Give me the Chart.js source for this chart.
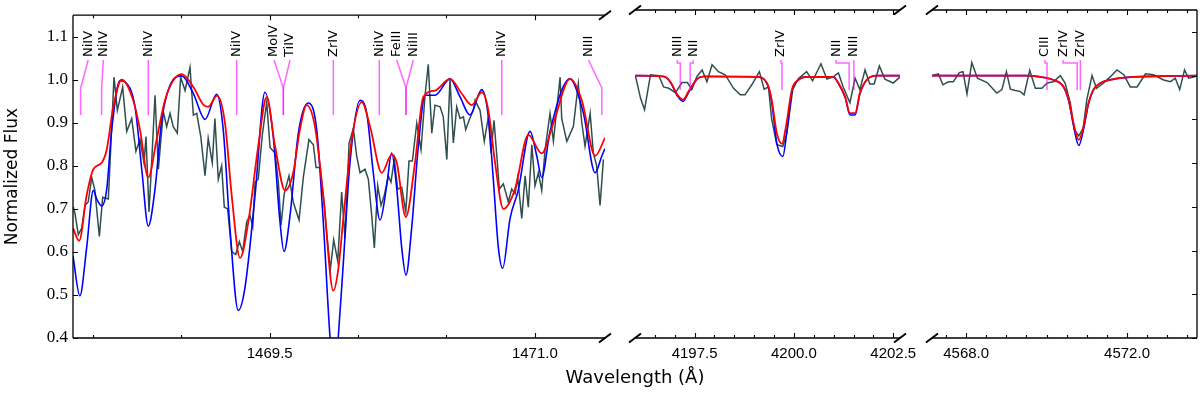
<!DOCTYPE html>
<html>
<head>
<meta charset="utf-8">
<title>Normalized flux - broken wavelength axis</title>
<script src="https://cdn.jsdelivr.net/npm/chart.js@4.4.0/dist/chart.umd.min.js"></script>
<style>
  body { margin: 0; background: #fff; }
  #wrap { position: relative; width: 1200px; height: 393px; }
  #wrap canvas { position: absolute; left: 0; top: 0; }
  #xtitle {
    position: absolute; left: 485px; width: 300px; top: 366px;
    text-align: center; font: 18px "DejaVu Sans", sans-serif; color: #000;
  }
</style>
</head>
<body>
<div id="wrap">
  <canvas id="panel1" width="1200" height="393"></canvas>
  <canvas id="panel2" width="1200" height="393"></canvas>
  <canvas id="panel3" width="1200" height="393"></canvas>
  <div id="xtitle">Wavelength (Å)</div>
</div>
<script>
// ---- Panel 1: 1468.4 - 1471.4 A ----
const obs1Wave = [1468.389, 1468.398, 1468.417, 1468.436, 1468.455, 1468.473, 1468.493, 1468.511, 1468.536, 1468.555,
  1468.587, 1468.619, 1468.638, 1468.668, 1468.691, 1468.719, 1468.743, 1468.766, 1468.789, 1468.800,
  1468.817, 1468.832, 1468.851, 1468.870, 1468.898, 1468.917, 1468.936, 1468.954, 1468.977, 1468.996,
  1469.021, 1469.049, 1469.068, 1469.087, 1469.110, 1469.134, 1469.152, 1469.175, 1469.190, 1469.209,
  1469.228, 1469.243, 1469.262, 1469.285, 1469.308, 1469.328, 1469.347, 1469.370, 1469.388, 1469.404,
  1469.417, 1469.435, 1469.458, 1469.483, 1469.502, 1469.530, 1469.549, 1469.564, 1469.582, 1469.609,
  1469.633, 1469.666, 1469.690, 1469.722, 1469.747, 1469.762, 1469.785, 1469.807, 1469.828, 1469.843,
  1469.862, 1469.885, 1469.907, 1469.926, 1469.949, 1469.973, 1469.992, 1470.011, 1470.039, 1470.058,
  1470.077, 1470.092, 1470.111, 1470.130, 1470.148, 1470.171, 1470.186, 1470.205, 1470.224, 1470.247,
  1470.270, 1470.288, 1470.307, 1470.332, 1470.356, 1470.379, 1470.397, 1470.417, 1470.435, 1470.464,
  1470.482, 1470.502, 1470.520, 1470.539, 1470.558, 1470.577, 1470.596, 1470.609, 1470.628, 1470.652,
  1470.662, 1470.690, 1470.714, 1470.737, 1470.752, 1470.769, 1470.788, 1470.799, 1470.822, 1470.850,
  1470.869, 1470.888, 1470.903, 1470.926, 1470.945, 1470.963, 1470.983, 1471.001, 1471.020, 1471.039,
  1471.058, 1471.086, 1471.105, 1471.143, 1471.152, 1471.181, 1471.218, 1471.246, 1471.266, 1471.284,
  1471.313, 1471.331, 1471.350, 1471.369, 1471.388];
const obs1Flux = [0.704, 0.690, 0.640, 0.655, 0.708, 0.716, 0.773, 0.743, 0.636, 0.727,
  0.723, 1.006, 0.929, 0.983, 0.880, 0.910, 0.834, 0.861, 0.807, 0.868,
  0.693, 0.807, 0.964, 0.792, 0.926, 0.891, 0.922, 0.891, 0.876, 1.006,
  0.975, 1.029, 0.918, 0.922, 0.868, 0.777, 0.864, 0.807, 0.910, 0.769,
  0.800, 0.704, 0.700, 0.601, 0.594, 0.624, 0.601, 0.670, 0.685, 0.659,
  0.762, 0.769, 0.872, 0.948, 0.842, 0.830, 0.762, 0.662, 0.735, 0.777,
  0.716, 0.674, 0.773, 0.861, 0.849, 0.796, 0.796, 0.716, 0.620, 0.559,
  0.628, 0.578, 0.739, 0.632, 0.853, 0.887, 0.823, 0.784, 0.792, 0.769,
  0.685, 0.609, 0.754, 0.708, 0.731, 0.777, 0.762, 0.815, 0.746, 0.750,
  0.693, 0.811, 0.811, 0.899, 0.838, 0.964, 1.036, 0.876, 0.941, 0.937,
  0.914, 0.815, 1.002, 0.853, 0.937, 0.910, 0.914, 0.884, 0.906, 0.929,
  0.952, 0.929, 0.857, 0.914, 0.830, 0.906, 0.807, 0.746, 0.758, 0.716,
  0.746, 0.735, 0.773, 0.678, 0.777, 0.704, 0.849, 0.754, 0.784, 0.743,
  0.838, 0.922, 0.857, 1.006, 0.910, 0.857, 0.891, 0.991, 0.899, 0.846,
  0.922, 0.830, 0.800, 0.708, 0.815];

const blue1Wave = [1468.387, 1468.426, 1468.464, 1468.502, 1468.521, 1468.549, 1468.578, 1468.606, 1468.653, 1468.680,
  1468.738, 1468.776, 1468.813, 1468.851, 1468.889, 1468.936, 1469.002, 1469.068, 1469.134, 1469.200,
  1469.237, 1469.275, 1469.322, 1469.360, 1469.417, 1469.473, 1469.520, 1469.558, 1469.581, 1469.615,
  1469.662, 1469.718, 1469.766, 1469.803, 1469.841, 1469.865, 1469.888, 1469.917, 1469.954, 1470.011,
  1470.049, 1470.086, 1470.124, 1470.162, 1470.190, 1470.219, 1470.247, 1470.271, 1470.303, 1470.341,
  1470.379, 1470.435, 1470.520, 1470.577, 1470.633, 1470.700, 1470.737, 1470.765, 1470.794, 1470.818,
  1470.860, 1470.906, 1470.973, 1471.011, 1471.039, 1471.086, 1471.199, 1471.275, 1471.341, 1471.379,
  1471.397];
const blue1Flux = [0.590, 0.498, 0.609, 0.743, 0.723, 0.707, 0.746, 0.884, 0.998, 0.995,
  0.937, 0.792, 0.660, 0.746, 0.906, 0.987, 1.009, 0.968, 0.908, 0.966,
  0.884, 0.655, 0.464, 0.517, 0.731, 0.971, 0.868, 0.670, 0.601, 0.685,
  0.876, 0.946, 0.884, 0.670, 0.403, 0.300, 0.403, 0.578, 0.807, 0.952,
  0.922, 0.784, 0.674, 0.754, 0.830, 0.746, 0.609, 0.546, 0.655, 0.846,
  0.964, 0.964, 1.002, 0.960, 0.918, 0.977, 0.914, 0.769, 0.609, 0.562,
  0.678, 0.743, 0.880, 0.823, 0.773, 0.880, 1.002, 0.922, 0.784, 0.823,
  0.840];

const red1Wave = [1468.387, 1468.422, 1468.464, 1468.502, 1468.549, 1468.578, 1468.615, 1468.662, 1468.728, 1468.766,
  1468.813, 1468.860, 1468.907, 1468.954, 1469.002, 1469.068, 1469.124, 1469.152, 1469.202, 1469.247,
  1469.285, 1469.332, 1469.379, 1469.435, 1469.483, 1469.530, 1469.587, 1469.633, 1469.671, 1469.709,
  1469.756, 1469.803, 1469.860, 1469.888, 1469.917, 1469.964, 1470.021, 1470.068, 1470.134, 1470.190,
  1470.219, 1470.270, 1470.322, 1470.369, 1470.435, 1470.520, 1470.586, 1470.643, 1470.700, 1470.737,
  1470.775, 1470.822, 1470.888, 1470.963, 1471.039, 1471.105, 1471.199, 1471.266, 1471.341, 1471.397];
const red1Flux = [0.655, 0.626, 0.731, 0.792, 0.807, 0.838, 0.937, 1.000, 0.952, 0.884,
  0.773, 0.861, 0.952, 0.998, 1.013, 0.983, 0.942, 0.937, 0.963, 0.899,
  0.731, 0.586, 0.670, 0.846, 0.960, 0.846, 0.743, 0.784, 0.884, 0.941,
  0.891, 0.731, 0.510, 0.560, 0.680, 0.861, 0.948, 0.891, 0.784, 0.826,
  0.807, 0.681, 0.807, 0.960, 0.975, 1.002, 0.968, 0.941, 0.971, 0.929,
  0.807, 0.700, 0.746, 0.872, 0.829, 0.899, 1.002, 0.952, 0.823, 0.865];

// ---- Panel 2: 4196.0 - 4202.7 A ----
const obs2Wave = [4196.01, 4196.14, 4196.24, 4196.39, 4196.60, 4196.72, 4196.85, 4197.02, 4197.18, 4197.32,
  4197.43, 4197.56, 4197.69, 4197.81, 4197.94, 4198.10, 4198.27, 4198.48, 4198.65, 4198.77,
  4198.94, 4199.13, 4199.25, 4199.36, 4199.44, 4199.57, 4199.72, 4199.82, 4199.97, 4200.11,
  4200.32, 4200.47, 4200.68, 4200.83, 4200.99, 4201.12, 4201.24, 4201.41, 4201.54, 4201.66,
  4201.79, 4201.91, 4202.02, 4202.15, 4202.29, 4202.50, 4202.67];
const obs2Flux = [1.000, 0.948, 0.922, 1.002, 1.000, 0.974, 0.971, 0.961, 0.984, 0.984,
  0.968, 0.998, 1.013, 0.986, 1.025, 1.009, 1.002, 0.971, 0.956, 0.956,
  0.979, 1.009, 0.969, 0.974, 0.900, 0.842, 0.838, 0.868, 0.968, 0.993,
  1.009, 0.988, 1.027, 0.992, 0.997, 1.006, 0.974, 0.938, 0.994, 0.968,
  1.013, 0.981, 0.981, 1.022, 0.992, 0.983, 0.997];

const blue2Wave = [4196.01, 4196.72, 4196.89, 4197.07, 4197.21, 4197.35, 4197.56, 4197.73, 4199.07, 4199.32,
  4199.44, 4199.57, 4199.72, 4199.82, 4199.95, 4200.11, 4200.32, 4200.99, 4201.12, 4201.29,
  4201.41, 4201.54, 4201.66, 4201.83, 4202.08, 4202.67];
const blue2Flux = [1.000, 0.998, 0.985, 0.953, 0.941, 0.962, 0.992, 0.998, 0.997, 0.982,
  0.940, 0.845, 0.815, 0.870, 0.965, 0.990, 0.997, 0.997, 0.982, 0.950,
  0.910, 0.910, 0.958, 0.990, 1.000, 1.000];

const red2Wave = [4196.01, 4196.72, 4196.89, 4197.07, 4197.21, 4197.35, 4197.56, 4197.73, 4199.07, 4199.32,
  4199.44, 4199.57, 4199.70, 4199.80, 4199.95, 4200.11, 4200.32, 4200.99, 4201.12, 4201.29,
  4201.41, 4201.54, 4201.66, 4201.83, 4202.08, 4202.67];
const red2Flux = [1.000, 0.998, 0.986, 0.956, 0.945, 0.964, 0.992, 0.998, 0.997, 0.983,
  0.945, 0.868, 0.844, 0.884, 0.968, 0.990, 0.997, 0.997, 0.983, 0.952,
  0.914, 0.914, 0.960, 0.990, 1.000, 1.000];

// ---- Panel 3: 4567.2 - 4573.7 A ----
const obs3Wave = [4567.15, 4567.31, 4567.42, 4567.56, 4567.68, 4567.83, 4567.92, 4568.02, 4568.14, 4568.28,
  4568.52, 4568.76, 4568.89, 4569.00, 4569.10, 4569.22, 4569.34, 4569.44, 4569.58, 4569.72,
  4569.88, 4570.02, 4570.17, 4570.34, 4570.46, 4570.59, 4570.69, 4570.80, 4570.91, 4571.00,
  4571.13, 4571.24, 4571.42, 4571.58, 4571.75, 4571.92, 4572.08, 4572.25, 4572.46, 4572.66,
  4572.91, 4573.08, 4573.20, 4573.31, 4573.43, 4573.53, 4573.66, 4573.74];
const obs3Flux = [1.000, 1.004, 0.979, 0.986, 0.986, 1.007, 1.009, 0.958, 1.030, 0.994,
  0.984, 0.960, 0.968, 1.009, 0.969, 0.966, 0.964, 0.956, 1.012, 0.971,
  0.971, 0.983, 0.986, 1.000, 0.983, 0.937, 0.876, 0.862, 0.880, 0.945,
  1.000, 0.971, 0.983, 0.997, 1.013, 1.002, 0.974, 0.974, 1.004, 1.002,
  0.990, 0.986, 0.994, 0.968, 1.013, 0.994, 0.997, 1.000];

const model3Wave = [4567.15, 4569.51, 4569.84, 4570.17, 4570.42, 4570.55, 4570.67, 4570.80, 4570.92, 4571.04,
  4571.17, 4571.34, 4571.67, 4572.16, 4573.74];
const blue3Flux = [1.000, 1.000, 0.997, 0.990, 0.974, 0.942, 0.885, 0.840, 0.878, 0.935,
  0.968, 0.983, 0.992, 0.997, 1.000];
const red3Flux = [1.000, 1.000, 0.997, 0.990, 0.975, 0.945, 0.891, 0.853, 0.884, 0.937,
  0.969, 0.983, 0.992, 0.997, 1.000];

// ---- Axes ----
const fluxTicks = [0.4, 0.5, 0.6, 0.7, 0.8, 0.9, 1.0, 1.1];
const p1MajorTicks = [1469.5, 1471.0];
const p1MinorTicks = [1468.5, 1469.0, 1470.0, 1470.5];
const p2MajorTicks = [4197.5, 4200.0, 4202.5];
const p2MinorTicks = [4196.5, 4197.0, 4198.0, 4198.5, 4199.0, 4199.5, 4200.5, 4201.0, 4201.5, 4202.0];
const p3MajorTicks = [4568.0, 4572.0];
const p3MinorTicks = [4567.5, 4568.5, 4569.0, 4569.5, 4570.0, 4570.5, 4571.0, 4571.5, 4572.5, 4573.0, 4573.5];

// ---- Line identifications ----
const p1Ions = ["NiIV", "NiIV", "NiIV", "NiIV", "MoIV", "TiIV", "ZrIV", "NiIV", "FeIII", "NiIII", "NiIV", "NIII"];
const p1IonWaves = [1468.430, 1468.549, 1468.813, 1469.313, 1469.577, 1469.577, 1469.860, 1470.120, 1470.271, 1470.271, 1470.813, 1471.379];
const p2Ions = ["NIII", "NII", "ZrIV", "NII", "NIII"];
const p2IonWaves = [4197.14, 4197.39, 4199.70, 4201.39, 4201.51];
const p3Ions = ["CIII", "ZrIV", "ZrIV"];
const p3IonWaves = [4570.01, 4570.76, 4570.84];

const OBS_COLOR = "#2f4f4f";
const BLUE_COLOR = "#0000ff";
const RED_COLOR = "#ff0000";
const ID_COLOR = "rgba(255, 0, 255, 0.6)";

function toPoints(waves, fluxes) {
  return waves.map((w, i) => ({ x: w, y: fluxes[i] }));
}

// Frame plugin: spines, inward ticks, axis break marks and line IDs
const framePlugin = {
  id: "frame",
  afterDatasetsDraw(chart, args, opts) {
    const ctx = chart.ctx;
    const { left, right, top, bottom } = chart.chartArea;
    const xs = chart.scales.x;
    const ys = chart.scales.y;

    ctx.save();
    ctx.strokeStyle = "#000";
    ctx.lineWidth = 1.3;
    ctx.beginPath();
    ctx.moveTo(left, top); ctx.lineTo(right, top);
    ctx.moveTo(left, bottom); ctx.lineTo(right, bottom);
    if (opts.leftSpine) { ctx.moveTo(left, top); ctx.lineTo(left, bottom); }
    if (opts.rightSpine) { ctx.moveTo(right, top); ctx.lineTo(right, bottom); }
    ctx.stroke();

    // x ticks, pointing inward on top and bottom
    ctx.lineWidth = 1.1;
    ctx.beginPath();
    const xTick = (v, len) => {
      const px = Math.round(xs.getPixelForValue(v)) + 0.5;
      ctx.moveTo(px, bottom); ctx.lineTo(px, bottom - len);
      ctx.moveTo(px, top); ctx.lineTo(px, top + len);
    };
    opts.major.forEach(v => xTick(v, 5));
    opts.minor.forEach(v => xTick(v, 3));
    // y ticks on visible side spines
    fluxTicks.forEach(v => {
      const py = Math.round(ys.getPixelForValue(v)) + 0.5;
      if (opts.leftSpine) { ctx.moveTo(left, py); ctx.lineTo(left + 5, py); }
      if (opts.rightSpine) { ctx.moveTo(right, py); ctx.lineTo(right - 5, py); }
    });
    ctx.stroke();

    // break marks
    ctx.lineWidth = 2;
    ctx.beginPath();
    opts.breaks.forEach(side => {
      const bx = side === "left" ? left : right;
      [top, bottom].forEach(by => {
        ctx.moveTo(bx - 6, by + 4.5);
        ctx.lineTo(bx + 6, by - 4.5);
      });
    });
    ctx.stroke();

    // line identifications
    const ids = opts.ids;
    ctx.strokeStyle = ID_COLOR;
    ctx.lineWidth = 1.5;
    ctx.fillStyle = "#000";
    ctx.font = '13px "DejaVu Sans", sans-serif';
    ids.names.forEach((name, i) => {
      const lineX = xs.getPixelForValue(ids.waves[i]);
      const labelX = lineX + ids.dx[i];
      ctx.beginPath();
      ctx.moveTo(labelX, 60);
      ctx.lineTo(labelX, 60 + ids.bendA);
      ctx.lineTo(lineX, 60 + ids.bendB);
      ctx.lineTo(lineX, ids.bottom);
      ctx.stroke();
      ctx.save();
      ctx.translate(labelX, 57);
      ctx.rotate(-Math.PI / 2);
      ctx.textAlign = "left";
      ctx.textBaseline = "middle";
      ctx.fillText(name, 0, 0);
      ctx.restore();
    });
    ctx.restore();
  }
};

function makePanel(canvasId, cfg) {
  const datasets = [
    { data: cfg.red, borderColor: RED_COLOR, borderWidth: 1.8, cubicInterpolationMode: "monotone" },
    { data: cfg.blue, borderColor: BLUE_COLOR, borderWidth: 1.6, cubicInterpolationMode: "monotone" },
    { data: cfg.obs, borderColor: OBS_COLOR, borderWidth: 1.5, tension: 0 }
  ].map(d => Object.assign(d, { pointRadius: 0, fill: false }));

  const tickFont = { family: "'Liberation Sans', sans-serif", size: 15 };

  return new Chart(document.getElementById(canvasId), {
    type: "line",
    data: { datasets },
    options: {
      responsive: false,
      animation: false,
      events: [],
      layout: {
        autoPadding: false,
        padding: { left: cfg.padLeft, right: cfg.padRight, top: 10, bottom: 0 }
      },
      plugins: {
        legend: { display: false },
        tooltip: { enabled: false },
        frame: cfg.frame
      },
      scales: {
        x: {
          type: "linear",
          min: cfg.xmin,
          max: cfg.xmax,
          afterBuildTicks: s => { s.ticks = cfg.frame.major.map(v => ({ value: v })); },
          afterFit: s => { s.height = 55; },
          grid: { display: false, drawTicks: false },
          border: { display: false },
          ticks: {
            autoSkip: false,
            maxRotation: 0,
            padding: 7,
            color: "#000",
            font: tickFont,
            callback: v => Number(v).toFixed(1)
          }
        },
        y: {
          display: cfg.showY,
          min: 0.4,
          max: 1.15,
          afterBuildTicks: s => { s.ticks = fluxTicks.map(v => ({ value: v })); },
          afterFit: s => { s.width = cfg.showY ? 73 : 0; },
          grid: { display: false, drawTicks: false },
          border: { display: false },
          ticks: {
            padding: 5,
            color: "#000",
            font: { family: "'Liberation Serif', serif", size: 17 },
            callback: v => Number(v).toFixed(1)
          },
          title: {
            display: true,
            text: "Normalized Flux",
            color: "#000",
            font: { family: "'DejaVu Sans', sans-serif", size: 17 },
            padding: { top: 2, bottom: 0 }
          }
        }
      }
    },
    plugins: [framePlugin]
  });
}

makePanel("panel1", {
  obs: toPoints(obs1Wave, obs1Flux),
  blue: toPoints(blue1Wave, blue1Flux),
  red: toPoints(red1Wave, red1Flux),
  xmin: 1468.387, xmax: 1471.397,
  padLeft: 0, padRight: 595, showY: true,
  frame: {
    leftSpine: true, rightSpine: false, breaks: ["right"],
    major: p1MajorTicks, minor: p1MinorTicks,
    ids: { names: p1Ions, waves: p1IonWaves, dx: [7.6, 1.7, 0, 0, -9.3, 6.7, 0, 0, -9.3, 7.3, 0, -13.3],
           bendA: 0, bendB: 28, bottom: 115 }
  }
});

makePanel("panel2", {
  obs: toPoints(obs2Wave, obs2Flux),
  blue: toPoints(blue2Wave, blue2Flux),
  red: toPoints(red2Wave, red2Flux),
  xmin: 4196.0, xmax: 4202.67,
  padLeft: 635, padRight: 300, showY: false,
  frame: {
    leftSpine: false, rightSpine: false, breaks: ["left", "right"],
    major: p2MajorTicks, minor: p2MinorTicks,
    ids: { names: p2Ions, waves: p2IonWaves, dx: [-3, 3, -1, -13, 0],
           bendA: 3, bendB: 3, bottom: 90 }
  }
});

makePanel("panel3", {
  obs: toPoints(obs3Wave, obs3Flux),
  blue: toPoints(model3Wave, blue3Flux),
  red: toPoints(model3Wave, red3Flux),
  xmin: 4567.15, xmax: 4573.74,
  padLeft: 932, padRight: 3, showY: false,
  frame: {
    leftSpine: false, rightSpine: true, breaks: ["left"],
    major: p3MajorTicks, minor: p3MinorTicks,
    ids: { names: p3Ions, waves: p3IonWaves, dx: [-2, -14, 0],
           bendA: 3, bendB: 3, bottom: 90 }
  }
});
</script>
</body>
</html>
